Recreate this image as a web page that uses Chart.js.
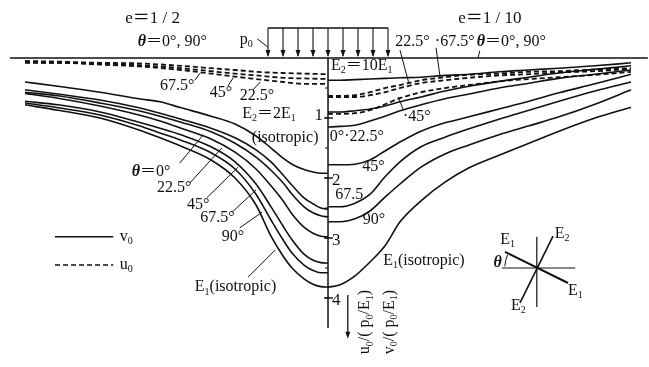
<!DOCTYPE html>
<html>
<head>
<meta charset="utf-8">
<script src="https://cdn.jsdelivr.net/npm/chart.js@4.4.0/dist/chart.umd.min.js"></script>
<style>
  html, body { margin: 0; background: #fff; }
  #wrap { width: 649px; height: 367px; }
</style>
</head>
<body>
<div id="wrap"><canvas id="settlement"></canvas></div>
<script>
// horizontal position in units of the load half-width b
const xLeft = [-5.05, -4.5, -3.8, -3.15, -2.8, -2.45, -1.95, -1.55, -1.2, -0.95, -0.75, -0.6, -0.4, -0.25, -0.12, 0];
const xRight = [0, 0.2, 0.45, 0.7, 0.95, 1.2, 1.55, 1.95, 2.35, 2.85, 3.35, 3.85, 4.45, 5.05];
const xLeftU = [-5.05, -4.5, -3.8, -3.15, -2.45, -1.95, -1.55, -1.2, -0.75, -0.4, 0];

// e = 1/2 : vertical displacement v0/(p0/E1)
const vIsoE2L = [0.40, 0.47, 0.57, 0.68, 0.73, 0.83, 0.97, 1.10, 1.30, 1.50, 1.67, 1.77, 1.86, 1.90, 1.92, 1.92];
const vTh0L   = [0.53, 0.60, 0.70, 0.83, 0.92, 1.02, 1.17, 1.33, 1.53, 1.73, 1.95, 2.12, 2.33, 2.43, 2.50, 2.52];
const vTh22L  = [0.57, 0.63, 0.75, 0.88, 0.97, 1.07, 1.23, 1.42, 1.65, 1.87, 2.08, 2.27, 2.48, 2.58, 2.63, 2.65];
const vTh45L  = [0.59, 0.67, 0.80, 0.95, 1.05, 1.17, 1.35, 1.57, 1.85, 2.13, 2.38, 2.60, 2.82, 2.92, 2.97, 2.98];
const vTh67L  = [0.72, 0.78, 0.90, 1.07, 1.17, 1.28, 1.48, 1.73, 2.10, 2.48, 2.80, 3.03, 3.27, 3.37, 3.41, 3.42];
const vTh90L  = [0.75, 0.83, 0.95, 1.13, 1.25, 1.37, 1.58, 1.85, 2.27, 2.70, 3.03, 3.25, 3.45, 3.54, 3.58, 3.58];
const vIsoE1L = [0.78, 0.87, 1.00, 1.20, 1.33, 1.47, 1.70, 2.00, 2.45, 2.97, 3.30, 3.50, 3.68, 3.77, 3.81, 3.82];
// e = 1/2 : horizontal displacement u0/(p0/E1)
const uTh22L = [0.08, 0.08, 0.11, 0.14, 0.20, 0.26, 0.31, 0.35, 0.40, 0.43, 0.43];
const uTh45L = [0.07, 0.08, 0.09, 0.12, 0.17, 0.22, 0.26, 0.29, 0.33, 0.34, 0.35];
const uTh67L = [0.05, 0.06, 0.08, 0.09, 0.13, 0.17, 0.20, 0.23, 0.25, 0.26, 0.27];

// e = 1/10 : vertical displacement
const vIsoE10R = [0.37, 0.37, 0.36, 0.35, 0.34, 0.33, 0.32, 0.29, 0.27, 0.23, 0.20, 0.17, 0.13, 0.08];
const vTh0R    = [0.90, 0.90, 0.88, 0.85, 0.80, 0.73, 0.65, 0.55, 0.47, 0.39, 0.32, 0.25, 0.19, 0.13];
const vTh22R   = [1.15, 1.14, 1.12, 1.05, 0.97, 0.88, 0.78, 0.68, 0.60, 0.50, 0.42, 0.34, 0.27, 0.20];
const vTh45R   = [1.78, 1.78, 1.77, 1.70, 1.55, 1.40, 1.22, 1.08, 0.98, 0.85, 0.72, 0.58, 0.43, 0.27];
const vTh67R   = [2.48, 2.48, 2.42, 2.27, 1.98, 1.73, 1.48, 1.32, 1.18, 1.02, 0.87, 0.72, 0.55, 0.40];
const vTh90R   = [2.73, 2.73, 2.68, 2.55, 2.32, 2.10, 1.82, 1.60, 1.45, 1.28, 1.13, 0.98, 0.77, 0.53];
const vIsoE1R  = [3.82, 3.78, 3.63, 3.40, 3.13, 2.73, 2.38, 2.07, 1.83, 1.62, 1.42, 1.22, 1.00, 0.82];
// e = 1/10 : horizontal displacement
const uTh22R = [0.65, 0.65, 0.65, 0.62, 0.57, 0.50, 0.42, 0.37, 0.33, 0.29, 0.27, 0.24, 0.22, 0.18];
const uTh45R = [0.93, 0.93, 0.92, 0.87, 0.77, 0.67, 0.57, 0.50, 0.45, 0.39, 0.35, 0.32, 0.28, 0.23];
const uTh67R = [0.63, 0.63, 0.62, 0.57, 0.50, 0.45, 0.37, 0.32, 0.28, 0.26, 0.23, 0.22, 0.19, 0.17];

const depthTicks = [1, 2, 3, 4];

const FACE = '"Liberation Serif", "DejaVu Serif", "Noto Sans CJK JP", serif';
const INK = '#111';

const pts = (xs, ys) => xs.map((x, i) => ({ x: x, y: ys[i] }));
const solid = (xs, ys) => ({
  data: pts(xs, ys), showLine: true, borderColor: INK, borderWidth: 1.6,
  pointRadius: 0, cubicInterpolationMode: 'monotone', fill: false
});
const dashed = (xs, ys) => Object.assign(solid(xs, ys), { borderDash: [5, 3], borderWidth: 1.8 });

// text, leaders and small diagram drawn on top of the curves
const labels = [
  { t: 'e＝1 / 2', x: -3.38, y: -0.65, s: 17 },
  { t: 'θ＝0°, 90°', x: -3.17, y: -0.27 },
  { t: 'p_0', x: -1.47, y: -0.30 },
  { t: 'e＝1 / 10', x: 2.17, y: -0.65, s: 17 },
  { t: '22.5°', x: 1.12, y: -0.27 },
  { t: '·67.5°', x: 1.78, y: -0.27 },
  { t: 'θ＝0°, 90°', x: 2.48, y: -0.27 },
  { t: 'E_2＝10E_1', x: 0.05, y: 0.13 },
  { t: '67.5°', x: -2.80, y: 0.47 },
  { t: '45°', x: -1.97, y: 0.58 },
  { t: '22.5°', x: -1.47, y: 0.63 },
  { t: 'E_2＝2E_1', x: -1.43, y: 0.93 },
  { t: '(isotropic)', x: -1.27, y: 1.33 },
  { t: '0°·22.5°', x: 0.03, y: 1.32 },
  { t: '·45°', x: 1.25, y: 0.98 },
  { t: '45°', x: 0.57, y: 1.82 },
  { t: '67.5', x: 0.12, y: 2.28 },
  { t: '90°', x: 0.58, y: 2.70 },
  { t: 'E_1(isotropic)', x: 0.92, y: 3.38 },
  { t: 'E_1(isotropic)', x: -2.22, y: 3.82 },
  { t: 'θ＝0°', x: -3.27, y: 1.90 },
  { t: '22.5°', x: -2.85, y: 2.17 },
  { t: '45°', x: -2.35, y: 2.45 },
  { t: '67.5°', x: -2.13, y: 2.67 },
  { t: '90°', x: -1.77, y: 2.98 },
  { t: 'v_0', x: -3.47, y: 2.98 },
  { t: 'u_0', x: -3.47, y: 3.45 },
  { t: 'E_1', x: 2.87, y: 3.03 },
  { t: 'E_2', x: 3.78, y: 2.93 },
  { t: 'θ', x: 2.76, y: 3.42 },
  { t: 'E_2', x: 3.05, y: 4.13 },
  { t: 'E_1', x: 4.00, y: 3.88 }
];
const leaders = [
  [-1.18, -0.32, -1.0, -0.18],
  [-2.22, 0.37, -2.13, 0.25], [-1.67, 0.47, -1.58, 0.33], [-1.25, 0.53, -1.13, 0.40],
  [1.20, -0.13, 1.35, 0.43], [1.80, -0.17, 1.87, 0.33], [2.53, -0.12, 2.50, 0.0],
  [1.25, 0.85, 1.17, 0.65],
  [-2.47, 1.75, -2.08, 1.28], [-2.30, 2.08, -1.77, 1.50], [-2.02, 2.33, -1.50, 1.82],
  [-1.60, 2.57, -1.20, 2.20], [-1.47, 2.83, -1.10, 2.57], [-1.33, 3.65, -0.88, 3.20]
];

function rich(ctx, text, x, y, size, align) {
  // '_' sets the following character as a subscript
  const parts = [];
  for (let i = 0; i < text.length; i++) {
    if (text[i] === '_') parts.push({ c: text[++i], sub: true });
    else parts.push({ c: text[i], sub: false });
  }
  const fontOf = p => (p.c === 'θ' ? 'italic bold ' : '') + (p.sub ? Math.round(size * 0.62) : size) + 'px ' + FACE;
  let w = 0;
  parts.forEach(p => { ctx.font = fontOf(p); p.w = ctx.measureText(p.c).width; w += p.w; });
  let cx = align === 'center' ? x - w / 2 : x;
  parts.forEach(p => {
    ctx.font = fontOf(p);
    ctx.fillText(p.c, cx, y + (p.sub ? size * 0.3 : 0));
    cx += p.w;
  });
}

const figureMarks = {
  id: 'figureMarks',
  afterDatasetsDraw(chart) {
    const ctx = chart.ctx;
    const X = v => chart.scales.x.getPixelForValue(v);
    const Y = v => chart.scales.y.getPixelForValue(v);
    const line = (x1, y1, x2, y2, w) => {
      ctx.lineWidth = w || 1.2;
      ctx.beginPath(); ctx.moveTo(x1, y1); ctx.lineTo(x2, y2); ctx.stroke();
    };
    const arrowDown = (x, y) => {
      ctx.beginPath(); ctx.moveTo(x, y); ctx.lineTo(x - 2.5, y - 7); ctx.lineTo(x + 2.5, y - 7); ctx.closePath(); ctx.fill();
    };
    ctx.save();
    ctx.strokeStyle = INK; ctx.fillStyle = INK;
    ctx.textBaseline = 'middle';

    // ground surface
    line(X(-5.3), Y(0), X(5.33), Y(0), 1.6);

    // strip load p0
    line(X(-1), Y(-0.5), X(1), Y(-0.5), 1.4);
    for (let k = -4; k <= 4; k++) {
      const ax = X(k * 0.25);
      line(ax, Y(-0.5), ax, Y(0) - 2, 1.1);
      arrowDown(ax, Y(0) - 1);
    }

    // centre line with depth ticks
    line(X(0), Y(0), X(0), Y(4.5), 1.5);
    for (let v = 0.5; v <= 4.25; v += 0.5) line(X(0) - 3, Y(v), X(0), Y(v), 1);
    ctx.font = '17px ' + FACE;
    depthTicks.forEach(v => {
      line(X(0) - 4, Y(v), X(0) + 5, Y(v), 1.4);
      if (v === 1) { ctx.textAlign = 'right'; ctx.fillText(String(v), X(0) - 5, Y(v) - 2); }
      else { ctx.textAlign = 'left'; ctx.fillText(String(v), X(0) + 4, Y(v) + 3); }
    });
    ctx.textAlign = 'left';

    // leaders
    leaders.forEach(l => line(X(l[0]), Y(l[1]), X(l[2]), Y(l[3]), 1));

    // line key
    line(X(-4.55), Y(2.98), X(-3.58), Y(2.98), 1.4);
    ctx.setLineDash([5, 3]);
    line(X(-4.55), Y(3.45), X(-3.58), Y(3.45), 1.6);
    ctx.setLineDash([]);

    // labels
    labels.forEach(l => rich(ctx, l.t, X(l.x), Y(l.y), l.s || 16, 'left'));

    // axis titles
    line(X(0.33), Y(3.95), X(0.33), Y(4.62), 1.3);
    arrowDown(X(0.33), Y(4.68));
    [['u_0/( p_0/E_1)', 0.62], ['v_0/( p_0/E_1)', 1.03]].forEach(a => {
      ctx.save();
      ctx.translate(X(a[1]), Y(4.4));
      ctx.rotate(-Math.PI / 2);
      rich(ctx, a[0], 0, 0, 16, 'center');
      ctx.restore();
    });

    // material axes diagram
    const cx = X(3.48), cy = Y(3.5);
    line(cx, Y(2.98), cx, Y(4.15), 1.2);
    line(X(2.9), cy, X(4.12), cy, 1.2);
    line(X(2.95), Y(3.23), X(4.0), Y(3.75), 2);
    line(X(3.2), Y(4.08), X(3.75), Y(2.97), 1.6);
    ctx.lineWidth = 1;
    ctx.beginPath(); ctx.arc(cx, cy, 32, Math.PI + 0.05, Math.PI + 0.42); ctx.stroke();

    ctx.restore();
  }
};

new Chart(document.getElementById('settlement'), {
  type: 'scatter',
  data: {
    datasets: [
      solid(xLeft, vIsoE2L), solid(xLeft, vTh0L), solid(xLeft, vTh22L), solid(xLeft, vTh45L),
      solid(xLeft, vTh67L), solid(xLeft, vTh90L), solid(xLeft, vIsoE1L),
      dashed(xLeftU, uTh22L), dashed(xLeftU, uTh45L), dashed(xLeftU, uTh67L),
      solid(xRight, vIsoE10R), solid(xRight, vTh0R), solid(xRight, vTh22R), solid(xRight, vTh45R),
      solid(xRight, vTh67R), solid(xRight, vTh90R), solid(xRight, vIsoE1R),
      dashed(xRight, uTh22R), dashed(xRight, uTh45R), dashed(xRight, uTh67R)
    ]
  },
  options: {
    responsive: true,
    maintainAspectRatio: false,
    animation: false,
    layout: { padding: 0 },
    plugins: { legend: { display: false }, tooltip: { enabled: false } },
    scales: {
      x: { type: 'linear', min: -5.467, max: 5.35, display: false },
      y: { type: 'linear', min: -0.967, max: 5.15, reverse: true, display: false }
    }
  },
  plugins: [figureMarks]
});
</script>
</body>
</html>
